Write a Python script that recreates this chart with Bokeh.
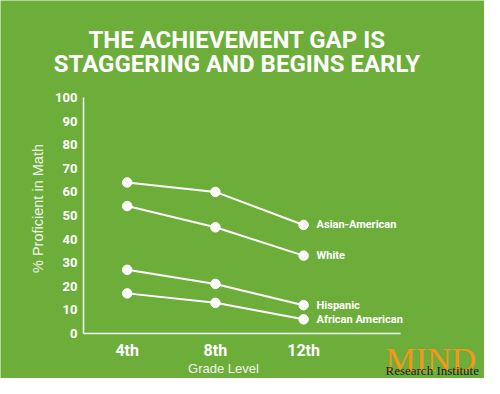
import math
from bokeh.plotting import figure
from bokeh.models import ColumnDataSource, FixedTicker
from bokeh.embed import file_html
from bokeh.resources import INLINE
from bokeh.core.properties import value

# ---- data ----
grades = ["4th", "8th", "12th"]
groups = ["Asian-American", "White", "Hispanic", "African American"]
asian_american = [64, 60, 46]
white = [54, 45, 33]
hispanic = [27, 21, 12]
african_american = [17, 13, 6]
y_ticks = [0, 10, 20, 30, 40, 50, 60, 70, 80, 90, 100]

series = [asian_american, white, hispanic, african_american]

BG = "#6DAE3B"
FONT = "Roboto"

# ---- layout (canvas pixels) ----
W, H = 484, 378
X_ORIGIN, XPPU = 126.7, 88.2      # px of first grade, px per grade step
Y_ORIGIN, YPPU = 333.0, 2.36      # px of 0 %, px per percent
AX_LEFT, AX_RIGHT = 83.0, 400.0   # extent of the x axis line


def dx(px):
    return (px - X_ORIGIN) / XPPU


def dy(py):
    return (Y_ORIGIN - py) / YPPU


p = figure(width=W, height=H, output_backend="svg", toolbar_location=None,
           x_range=(dx(0), dx(W)), y_range=(dy(H), dy(0)),
           min_border=0, background_fill_color=BG, border_fill_color=BG,
           outline_line_color=None)
p.grid.visible = False

xs = list(range(len(grades)))
for s in series:
    p.line(xs, s, line_color="white", line_width=2)
    p.scatter(xs, s, size=9.5, fill_color="white", line_color="white")

# axes, drawn inside the frame at fixed locations
p.xaxis.fixed_location = 0
p.xaxis.bounds = (dx(AX_LEFT), dx(AX_RIGHT))
p.yaxis.fixed_location = dx(AX_LEFT)
p.yaxis.bounds = (y_ticks[0], y_ticks[-1])
p.xaxis.ticker = FixedTicker(ticks=xs)
p.xaxis.major_label_overrides = {i: g for i, g in enumerate(grades)}
p.yaxis.ticker = FixedTicker(ticks=y_ticks)
for ax in (p.xaxis, p.yaxis):
    ax.axis_line_color = "white"
    ax.axis_line_width = 1.5
    ax.major_tick_line_color = None
    ax.minor_tick_line_color = None
    ax.major_tick_out = 0
    ax.major_tick_in = 0
    ax.major_label_text_color = "white"
    ax.major_label_text_font = FONT
    ax.major_label_text_font_style = "bold"
p.xaxis.major_label_text_font_size = "16px"
p.xaxis.major_label_standoff = 7
p.yaxis.major_label_text_font_size = "13px"
p.yaxis.major_label_standoff = 6

# end-of-line labels
src = ColumnDataSource(dict(
    x=[xs[-1]] * len(groups),
    y=[s[-1] for s in series],
    text=groups,
))
p.text(x="x", y="y", text="text", source=src,
       x_offset=13, text_baseline="middle", text_align="left",
       text_color="white", text_font=value(FONT),
       text_font_style="bold", text_font_size="11px")

# title
p.text(x=[dx(236.5), dx(236.5)], y=[dy(39), dy(63)],
       text=["THE ACHIEVEMENT GAP IS", "STAGGERING AND BEGINS EARLY"],
       text_align="center", text_baseline="middle", text_color="white",
       text_font=value(FONT), text_font_style="bold", text_font_size="24px")

# axis titles
p.text(x=[dx(37)], y=[dy(208)], text=["% Proficient in Math"], angle=math.pi / 2,
       text_align="center", text_baseline="middle", text_color="#EEF4E8",
       text_font=value("Liberation Sans"), text_font_size="14.5px")
p.text(x=[dx(223)], y=[dy(368)], text=["Grade Level"],
       text_align="center", text_baseline="middle", text_color="#EEF4E8",
       text_font=value("Liberation Sans"), text_font_size="13px")

# logo (kept inside the canvas)
p.text(x=[dx(385)], y=[dy(359)], text=["MIND"], text_align="left",
       text_baseline="alphabetic", text_color="#F7941E",
       text_font=value("Liberation Serif"), text_font_size="34px")
p.text(x=[dx(385)], y=[dy(370)], text=["Research Institute"], text_align="left",
       text_baseline="alphabetic", text_color="#1A1A1A",
       text_font=value("Liberation Serif"), text_font_size="13px")

open("out.html", "w").write(file_html(p, INLINE))
